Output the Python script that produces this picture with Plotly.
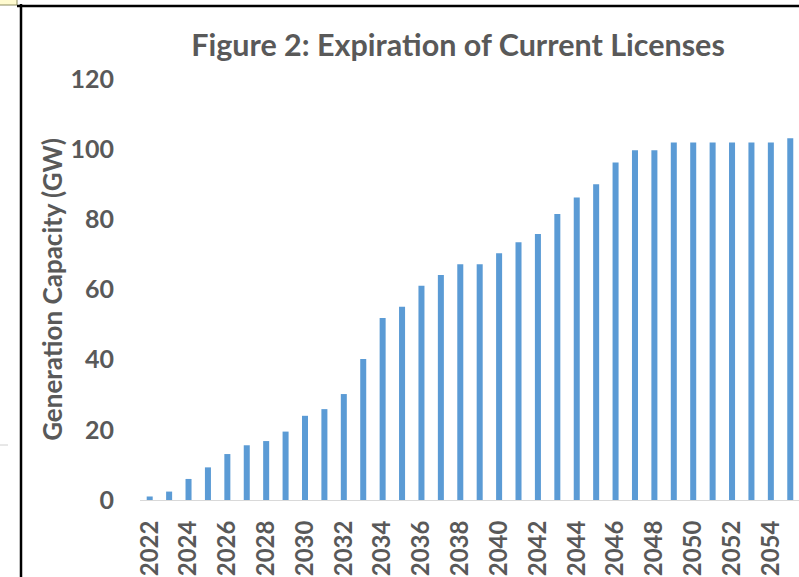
import plotly.graph_objects as go

years = [str(y) for y in range(2022, 2056)]
capacity = [1.0, 2.4, 6.0, 9.3, 13.1, 15.6, 16.8, 19.5, 24.0, 25.9,
            30.2, 40.2, 51.9, 55.1, 61.1, 64.1, 67.2, 67.2, 70.3, 73.5,
            75.8, 81.5, 86.2, 90.0, 96.2, 99.7, 99.7, 101.9, 101.9, 101.9,
            101.9, 101.9, 101.9, 103.1]
tick_years = [str(y) for y in range(2022, 2056, 2)]
y_ticks = [0, 20, 40, 60, 80, 100, 120]

W, H = 799, 577
L, R, T, B = 140, 0, 79, 77
pw, ph = W - L - R, H - T - B

def px(x):
    return (x - L) / pw

def py(y):
    return (H - B - y) / ph

FONT = "Lato"
GRAY = "#595959"

fig = go.Figure(go.Bar(
    x=years, y=capacity,
    marker=dict(color="#5B9BD5", line=dict(width=0)),
))

fig.update_layout(
    width=W, height=H,
    margin=dict(l=L, r=R, t=T, b=B, autoexpand=False),
    paper_bgcolor="white", plot_bgcolor="white",
    bargap=0.69,
    showlegend=False,
    title=dict(text="<b>Figure 2: Expiration of Current Licenses</b>",
               x=458 / W, xref="container", xanchor="center",
               y=1 - 45 / H, yref="container", yanchor="middle",
               font=dict(family=FONT, size=30.5, color=GRAY)),
    xaxis=dict(
        type="category", range=[-0.5, 33.45],
        tickmode="array", tickvals=tick_years, ticktext=tick_years,
        tickangle=-90, ticks="", ticklabelstandoff=10,
        tickfont=dict(family=FONT, size=24, color=GRAY, weight="bold"),
        showgrid=False, showline=True, linecolor="#D9D9D9", linewidth=1,
        zeroline=False,
    ),
    yaxis=dict(
        range=[0, 120], tickvals=y_ticks, ticks="", ticklabelstandoff=25,
        tickfont=dict(family=FONT, size=25, color=GRAY, weight="bold"),
        showgrid=False, showline=False, zeroline=False,
        title=dict(text="<b>Generation Capacity (GW)</b>", standoff=0,
                   font=dict(family=FONT, size=26, color=GRAY)),
    ),
    shapes=[
        dict(type="line", xref="paper", yref="paper",
             x0=px(21), x1=px(21), y0=py(4), y1=py(H + 5),
             line=dict(color="black", width=2.5)),
        dict(type="line", xref="paper", yref="paper",
             x0=px(17), x1=px(W + 5), y0=py(6), y1=py(6),
             line=dict(color="black", width=2.5)),
        dict(type="rect", xref="paper", yref="paper",
             x0=px(-2), x1=px(17), y0=py(-2), y1=py(5),
             fillcolor="#FFFBD0", line=dict(color="#8C8C60", width=1)),
        dict(type="line", xref="paper", yref="paper",
             x0=px(0), x1=px(8), y0=py(445), y1=py(445),
             line=dict(color="#D0D0D0", width=1)),
    ],
)

fig.write_html("out.html",
               config={"displayModeBar": False},
               post_script="document.body.style.margin='0';"
                           "document.body.style.padding='0';")
